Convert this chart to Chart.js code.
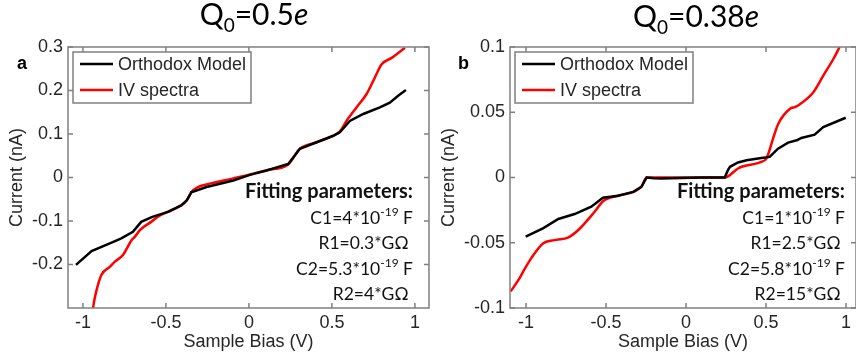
<!DOCTYPE html>
<html>
<head>
<meta charset="utf-8">
<script src="https://cdn.jsdelivr.net/npm/chart.js@4.4.1/dist/chart.umd.min.js"></script>
<style>
  body { margin: 0; background: #fff; }
  #wrap { position: relative; width: 856px; height: 361px; overflow: hidden; }
  canvas { position: absolute; top: 0; }
  #cA { left: 0; }
  #cB { left: 428px; }
</style>
</head>
<body>
<div id="wrap">
  <canvas id="cA" width="430" height="361"></canvas>
  <canvas id="cB" width="428" height="361"></canvas>
</div>
<script>
// panel a, Q0 = 0.5e
const aModelV = [-1.042, -0.948, -0.817, -0.769, -0.699, -0.649, -0.586, -0.488, -0.408, -0.375, -0.347, -0.255, -0.094, 0.006, 0.107, 0.237, 0.307, 0.408, 0.508, 0.548, 0.608, 0.689, 0.789, 0.849, 0.899, 0.946];
const aModelI = [-0.201, -0.169, -0.148, -0.140, -0.125, -0.102, -0.091, -0.079, -0.064, -0.053, -0.034, -0.022, -0.007, 0.006, 0.016, 0.031, 0.066, 0.081, 0.096, 0.104, 0.130, 0.146, 0.161, 0.172, 0.188, 0.201];
const aIVV = [-0.945, -0.935, -0.918, -0.889, -0.837, -0.809, -0.759, -0.707, -0.689, -0.657, -0.589, -0.536, -0.488, -0.408, -0.375, -0.347, -0.307, -0.255, -0.094, 0.006, 0.107, 0.237, 0.307, 0.408, 0.508, 0.548, 0.588, 0.648, 0.709, 0.749, 0.799, 0.860, 0.940];
const aIVI = [-0.32, -0.29, -0.259, -0.224, -0.205, -0.194, -0.178, -0.144, -0.137, -0.121, -0.102, -0.087, -0.079, -0.064, -0.053, -0.034, -0.022, -0.016, -0.002, 0.007, 0.017, 0.030, 0.066, 0.081, 0.096, 0.106, 0.130, 0.161, 0.192, 0.222, 0.260, 0.275, 0.298];

// panel b, Q0 = 0.38e
const bModelV = [-1.002, -0.894, -0.798, -0.696, -0.592, -0.519, -0.425, -0.329, -0.279, -0.246, -0.200, -0.154, 0.100, 0.242, 0.262, 0.275, 0.325, 0.379, 0.471, 0.523, 0.575, 0.638, 0.692, 0.721, 0.804, 0.858, 0.998];
const bModelI = [-0.0453, -0.039, -0.0318, -0.028, -0.0224, -0.0155, -0.014, -0.011, -0.0071, 0, -0.0005, -0.0008, 0, 0, 0.0056, 0.0082, 0.0115, 0.0132, 0.015, 0.0158, 0.0221, 0.0267, 0.0285, 0.0303, 0.0328, 0.0387, 0.0458];
const bIVV = [-1.096, -1.040, -1.017, -0.967, -0.892, -0.811, -0.738, -0.673, -0.571, -0.517, -0.425, -0.329, -0.279, -0.246, -0.200, 0.242, 0.325, 0.348, 0.471, 0.502, 0.525, 0.544, 0.577, 0.650, 0.681, 0.700, 0.796, 0.858, 0.921, 0.960];
const bIVI = [-0.0873, -0.0771, -0.072, -0.0618, -0.0504, -0.0478, -0.046, -0.0402, -0.0262, -0.018, -0.014, -0.011, -0.0071, 0, 0, 0, 0.0069, 0.0082, 0.012, 0.0145, 0.0221, 0.0298, 0.0412, 0.0527, 0.054, 0.0552, 0.0654, 0.0781, 0.0908, 0.100];

const xTicks = [-1, -0.5, 0, 0.5, 1];
const aYTicks = [-0.2, -0.1, 0, 0.1, 0.2, 0.3];
const bYTicks = [-0.1, -0.05, 0, 0.05, 0.1];
const seriesNames = ['Orthodox Model', 'IV spectra'];

const TXT = '#262626';
const EDGE = '#808080';
const tickFont = { family: '"Liberation Sans", Arial, sans-serif', size: 18 };

function pts(xs, ys) {
    return xs.map((x, i) => ({ x: x, y: ys[i] }));
}

// draws text made of runs (font/offset changes), aligned 'left' | 'center' | 'right'
function drawRuns(ctx, x, y, runs, align) {
    let w = 0;
    runs.forEach(r => { ctx.font = r.font; w += ctx.measureText(r.t).width; });
    let cx = align === 'center' ? x - w / 2 : align === 'right' ? x - w : x;
    ctx.textAlign = 'left';
    ctx.textBaseline = 'alphabetic';
    runs.forEach(r => {
        ctx.font = r.font;
        ctx.fillText(r.t, cx, y + (r.dy || 0));
        cx += ctx.measureText(r.t).width;
    });
}

function framePlugin(opt) {
    return {
        id: 'frame',
        afterDatasetsDraw(chart) {
            const ctx = chart.ctx;
            const a = chart.chartArea;
            const xs = chart.scales.x, ys = chart.scales.y;
            ctx.save();

            // box and inward ticks
            ctx.strokeStyle = EDGE;
            ctx.lineWidth = 1.5;
            ctx.strokeRect(a.left, a.top, a.right - a.left, a.bottom - a.top);
            ctx.beginPath();
            xTicks.forEach(v => {
                const p = xs.getPixelForValue(v);
                ctx.moveTo(p, a.bottom); ctx.lineTo(p, a.bottom - 5);
                ctx.moveTo(p, a.top); ctx.lineTo(p, a.top + 5);
            });
            opt.yTicks.forEach(v => {
                const p = ys.getPixelForValue(v);
                ctx.moveTo(a.left, p); ctx.lineTo(a.left + 5, p);
                ctx.moveTo(a.right, p); ctx.lineTo(a.right - 5, p);
            });
            ctx.stroke();

            // legend
            const lx = a.left + 5, ly = a.top + 5;
            ctx.fillStyle = '#fff';
            ctx.fillRect(lx, ly, 178, 51);
            ctx.strokeStyle = EDGE;
            ctx.strokeRect(lx, ly, 178, 51);
            chart.data.datasets.forEach((ds, i) => {
                const yy = ly + 12 + i * 26;
                ctx.strokeStyle = ds.borderColor;
                ctx.lineWidth = 2.5;
                ctx.beginPath();
                ctx.moveTo(lx + 7, yy); ctx.lineTo(lx + 40, yy);
                ctx.stroke();
                ctx.fillStyle = TXT;
                ctx.font = '18px "Liberation Sans", Arial, sans-serif';
                ctx.textBaseline = 'middle';
                ctx.textAlign = 'left';
                ctx.fillText(ds.label, lx + 45, yy + 1);
            });

            // fitting parameters
            ctx.fillStyle = '#111';
            const sup = '12px Lato';
            opt.params.forEach((line, i) => {
                const runs = line.map(s => (typeof s === 'string'
                    ? { t: s, font: i === 0 ? 'bold 20px Lato' : '17.5px Lato' }
                    : { t: s.sup, font: sup, dy: -8 }));
                drawRuns(ctx, opt.paramX, 198 + i * 25.5, runs, 'right');
            });

            // panel letter and title
            ctx.fillStyle = '#000';
            ctx.font = 'bold 18px "Liberation Sans", Arial, sans-serif';
            ctx.textAlign = 'left';
            ctx.textBaseline = 'alphabetic';
            ctx.fillText(opt.letter, opt.letterX, 69);
            drawRuns(ctx, opt.titleX, opt.titleY, [
                { t: 'Q', font: '30px Lato' },
                { t: '0', font: '19px Lato', dy: 7 },
                { t: '=' + opt.q0, font: '30px Lato' },
                { t: 'e', font: 'italic 30px Lato' }
            ], 'center');
            ctx.restore();
        }
    };
}

function makePanel(id, o) {
    new Chart(document.getElementById(id), {
        type: 'scatter',
        data: {
            datasets: [
                { label: seriesNames[0], data: pts(o.mV, o.mI), showLine: true, borderColor: '#000000', borderWidth: 2.5, pointRadius: 0, clip: 0 },
                { label: seriesNames[1], data: pts(o.iV, o.iI), showLine: true, borderColor: '#ff0000', borderWidth: 2.5, pointRadius: 0, cubicInterpolationMode: 'monotone', clip: 0 }
            ]
        },
        options: {
            responsive: false,
            animation: false,
            devicePixelRatio: 1,
            layout: { padding: { top: 47, right: o.padRight, left: 0, bottom: 0 } },
            plugins: { legend: { display: false }, tooltip: { enabled: false } },
            scales: {
                x: {
                    type: 'linear', min: o.xMin, max: o.xMax,
                    grid: { display: false, drawTicks: false },
                    border: { display: false },
                    afterBuildTicks: s => { s.ticks = xTicks.map(v => ({ value: v })); },
                    afterFit: s => { s.height = 53; },
                    ticks: { autoSkip: false, maxRotation: 0, padding: 4, color: TXT, font: tickFont, callback: v => String(v) },
                    title: { display: true, text: 'Sample Bias (V)', color: TXT, font: tickFont, padding: { top: 0, bottom: 8 } }
                },
                y: {
                    type: 'linear', min: o.yMin, max: o.yMax,
                    grid: { display: false, drawTicks: false },
                    border: { display: false },
                    afterBuildTicks: s => { s.ticks = o.yTicks.map(v => ({ value: v })); },
                    afterFit: s => { s.width = o.yWidth; },
                    ticks: { autoSkip: false, padding: 5, color: TXT, font: tickFont, callback: v => String(v) },
                    title: { display: true, text: 'Current (nA)', color: TXT, font: tickFont, padding: { top: o.yTitlePad, bottom: 0 } }
                }
            }
        },
        plugins: [framePlugin(o)]
    });
}

makePanel('cA', {
    mV: aModelV, mI: aModelI, iV: aIVV, iI: aIVI,
    xMin: -1.09, xMax: 1.085, yMin: -0.3, yMax: 0.3, yTicks: aYTicks,
    yWidth: 68, padRight: 1, yTitlePad: 6,
    letter: 'a', letterX: 17, titleX: 254, titleY: 25, q0: '0.5',
    paramX: 413,
    params: [['Fitting parameters:'], ['C1=4*10', { sup: '-19' }, ' F'], ['R1=0.3*G\u03A9 '], ['C2=5.3*10', { sup: '-19' }, ' F'], ['R2=4*G\u03A9 ']]
});

makePanel('cB', {
    mV: bModelV, mI: bModelI, iV: bIVV, iI: bIVI,
    xMin: -1.1, xMax: 1.0625, yMin: -0.1, yMax: 0.1, yTicks: bYTicks,
    yWidth: 82, padRight: 0, yTitlePad: 10,
    letter: 'b', letterX: 30, titleX: 268, titleY: 27, q0: '0.38',
    paramX: 417,
    params: [['Fitting parameters:'], ['C1=1*10', { sup: '-19' }, ' F'], ['R1=2.5*G\u03A9 '], ['C2=5.8*10', { sup: '-19' }, ' F'], ['R2=15*G\u03A9 ']]
});
</script>
</body>
</html>
